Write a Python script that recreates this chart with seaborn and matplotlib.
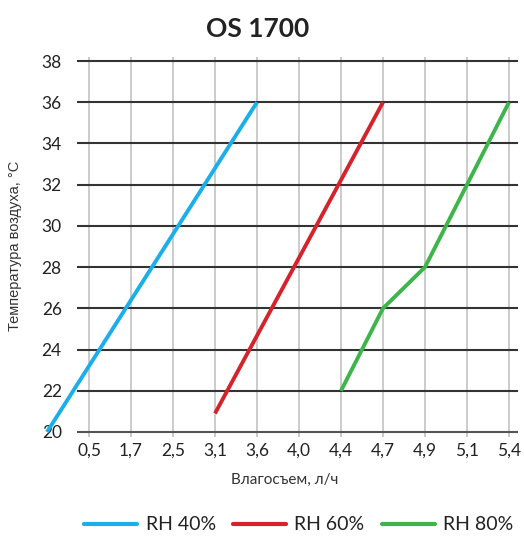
import pandas as pd
import matplotlib
matplotlib.use("Agg")
import matplotlib.pyplot as plt
import seaborn as sns
from matplotlib.lines import Line2D

# x axis: equally spaced categories, position 0 has no label
x_labels = ["0,5", "1,7", "2,5", "3,1", "3,6", "4,0", "4,4", "4,7", "4,9", "5,1", "5,4"]
y_ticks = [20, 22, 24, 26, 28, 30, 32, 34, 36, 38]

# series: x given as category position (0 = left of 0,5), y = air temperature
rh40_x = [0, 5]
rh40_y = [20, 36]
rh60_x = [4, 8]
rh60_y = [20.9, 36]
rh80_x = [7, 8, 9, 11]
rh80_y = [22, 26, 28, 36]

series = ["RH 40%", "RH 60%", "RH 80%"]
colors = ["#1AAEEA", "#D6222B", "#3EB54A"]

df = pd.concat([
    pd.DataFrame({"x": rh40_x, "y": rh40_y, "s": series[0]}),
    pd.DataFrame({"x": rh60_x, "y": rh60_y, "s": series[1]}),
    pd.DataFrame({"x": rh80_x, "y": rh80_y, "s": series[2]}),
])

sns.set_style("white")
plt.rcParams["font.family"] = ["Lato", "DejaVu Sans"]

fig = plt.figure(figsize=(5.24, 5.36), dpi=100)
ax = fig.add_axes([77 / 524, (536 - 437) / 536, 441 / 524, 380 / 536])

# grid
for i in range(1, len(x_labels) + 1):
    ax.axvline(i, color="#BDBDBD", lw=1.1, zorder=1)
for y in y_ticks:
    ax.axhline(y, color="#333333" if y != 20 else "#555555", lw=1.5, zorder=1)

sns.lineplot(data=df, x="x", y="y", hue="s", palette=colors, lw=2.8,
             legend=False, ax=ax, sort=False, estimator=None, zorder=3)
for ln in ax.lines[-3:]:
    ln.set_clip_on(False)
    ln.set_solid_capstyle("butt")

ax.set_xlim(30 / 42, 11 + 9 / 42)
ax.set_ylim(20 - 5 / 20.6, 38 + 4 / 20.6)
ax.set_xticks(range(1, len(x_labels) + 1))
ax.set_xticklabels(x_labels)
ax.set_yticks(y_ticks)
ax.tick_params(axis="x", length=0, pad=4, labelsize=12.5, colors="#222222")
ax.tick_params(axis="y", length=0, pad=11, labelsize=12.5, colors="#222222")
sns.despine(ax=ax, left=True, bottom=True)

ax.set_xlabel("")
ax.set_ylabel("")
fig.text(285 / 524, 1 - 480 / 536, "Влагосъем, л/ч", ha="center", va="center",
         fontsize=11, color="#333333")
fig.text(15 / 524, 1 - 246 / 536, "Температура воздуха, °С", ha="center",
         va="center", rotation=90, fontsize=10.5, color="#333333",
         family=["Liberation Sans", "DejaVu Sans"])
fig.text(258 / 524, 1 - 29 / 536, "OS 1700", ha="center", va="center",
         fontsize=19, fontweight="bold", color="#222222")

handles = [Line2D([0], [0], color=c, lw=3) for c in colors]
fig.legend(handles, series, loc="center", bbox_to_anchor=(299 / 524, 1 - 525 / 536),
           ncol=3, frameon=False, fontsize=14, handlelength=2.7,
           handletextpad=0.45, columnspacing=0.9, labelcolor="#222222")

fig.savefig("out.png", dpi=100)
